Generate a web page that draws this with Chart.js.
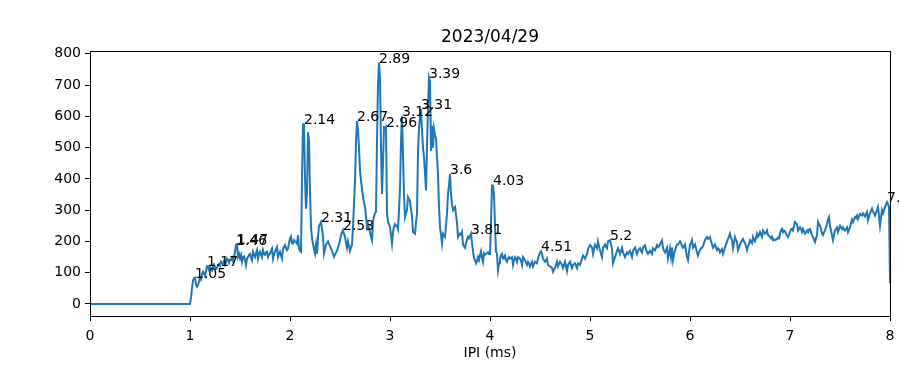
<!DOCTYPE html>
<html>
<head>
<meta charset="utf-8">
<title>2023/04/29</title>
<script src="https://cdn.jsdelivr.net/npm/chart.js@4.4.1/dist/chart.umd.min.js"></script>
<style>
    html, body { margin: 0; padding: 0; background: #ffffff; }
    #wrap { width: 900px; height: 366px; }
</style>
</head>
<body>
<div id="wrap"><canvas id="ipiChart" width="900" height="366"></canvas></div>
<script>
// ==================== ДАННЫЕ ====================

const chartTitle = '2023/04/29';
const xAxisLabel = 'IPI (ms)';
const ipiStep = 0.01;          // шаг гистограммы, мс
const xTicks = [0, 1, 2, 3, 4, 5, 6, 7, 8];
const yTicks = [0, 100, 200, 300, 400, 500, 600, 700, 800];

// отсчёты на каждый шаг 0.00 .. 8.00 мс
const counts = [
    0, 0, 0, 0, 0, 0, 0, 0, 0, 0, 0, 0, 0, 0, 0, 0, 0, 0, 0, 0,
    0, 0, 0, 0, 0, 0, 0, 0, 0, 0, 0, 0, 0, 0, 0, 0, 0, 0, 0, 0,
    0, 0, 0, 0, 0, 0, 0, 0, 0, 0, 0, 0, 0, 0, 0, 0, 0, 0, 0, 0,
    0, 0, 0, 0, 0, 0, 0, 0, 0, 0, 0, 0, 0, 0, 0, 0, 0, 0, 0, 0,
    0, 0, 0, 0, 0, 0, 0, 0, 0, 0, 0, 0, 0, 0, 0, 0, 0, 0, 0, 0,
    // 1.00
    0, 20, 50, 75, 82, 84, 62, 55, 60, 72,
    83, 78, 95, 103, 98, 90, 105, 121, 119, 110,
    118, 114, 108, 120, 126, 118, 112, 115, 125, 128,
    122, 135, 130, 128, 138, 126, 134, 145, 140, 132,
    142, 140, 148, 138, 150, 165, 190, 192, 151, 160,
    146, 157, 135, 150, 152, 140, 124, 145, 150, 157,
    160, 148, 140, 167, 158, 150, 162, 172, 145, 160,
    167, 158, 150, 172, 160, 157, 165, 167, 150, 158,
    162, 170, 177, 145, 158, 167, 175, 182, 150, 160,
    167, 155, 145, 177, 182, 188, 178, 172, 177, 195,
    // 2.00
    209, 216, 193, 193, 204, 200, 198, 193, 220, 178,
    170, 167, 400, 575, 575, 400, 305, 360, 549, 520,
    360, 246, 210, 193, 175, 161, 190, 161, 215, 250,
    255, 262, 240, 215, 161, 175, 190, 195, 200, 192,
    185, 178, 170, 160, 151, 158, 165, 170, 180, 190,
    205, 220, 228, 236, 225, 215, 195, 180, 200, 185,
    170, 180, 190, 246, 320, 390, 520, 586, 555, 500,
    427, 395, 370, 342, 325, 310, 280, 246, 255, 240,
    230, 215, 204, 265, 280, 290, 295, 520, 700, 772,
    720, 500, 352, 450, 565, 563, 567, 289, 262, 255,
    // 3.00
    246, 220, 193, 230, 245, 255, 250, 250, 240, 300,
    370, 520, 600, 480, 350, 278, 290, 300, 342, 335,
    330, 300, 280, 230, 228, 225, 260, 290, 490, 560,
    597, 623, 555, 500, 470, 420, 363, 500, 630, 724,
    712, 490, 570, 500, 560, 540, 530, 470, 416, 310,
    246, 220, 193, 225, 220, 215, 250, 289, 352, 380,
    416, 352, 320, 300, 305, 310, 285, 260, 214, 220,
    225, 222, 230, 190, 185, 180, 195, 205, 215, 210,
    218, 225, 195, 170, 146, 140, 130, 138, 150, 140,
    155, 168, 150, 135, 162, 158, 160, 162, 165, 160,
    // 4.00
    160, 260, 379, 379, 350, 250, 168, 160, 108, 130,
    145, 155, 160, 145, 150, 155, 140, 135, 145, 150,
    145, 148, 150, 125, 140, 150, 145, 135, 150, 148,
    145, 138, 125, 150, 145, 140, 132, 125, 135, 130,
    120, 128, 135, 120, 128, 135, 132, 130, 145, 155,
    165, 169, 160, 145, 140, 135, 140, 145, 125, 122,
    120, 118, 115, 103, 110, 115, 125, 135, 120, 128,
    135, 130, 125, 115, 125, 135, 120, 105, 125, 130,
    135, 125, 115, 125, 128, 130, 122, 115, 130, 128,
    125, 135, 145, 155, 150, 145, 152, 160, 175, 182,
    // 5.00
    188, 185, 180, 160, 175, 190, 185, 178, 200, 185,
    172, 160, 150, 180, 185, 190, 182, 178, 200, 202,
    204, 190, 178, 130, 140, 150, 160, 170, 178, 170,
    160, 170, 180, 165, 158, 150, 158, 165, 160, 165,
    170, 160, 150, 170, 175, 180, 170, 160, 170, 175,
    178, 170, 165, 180, 185, 188, 175, 165, 160, 165,
    170, 165, 160, 178, 175, 172, 180, 188, 182, 185,
    190, 198, 204, 180, 170, 165, 172, 180, 145, 160,
    178, 150, 180, 140, 158, 172, 182, 190, 190, 195,
    200, 195, 185, 180, 185, 190, 170, 150, 140, 165,
    // 6.00
    190, 195, 204, 180, 185, 190, 178, 165, 155, 165,
    172, 178, 180, 185, 195, 204, 210, 214, 208, 210,
    214, 200, 190, 180, 185, 190, 180, 172, 178, 175,
    165, 170, 175, 160, 170, 180, 190, 198, 208, 215,
    225, 212, 204, 178, 195, 214, 205, 198, 172, 180,
    190, 198, 204, 208, 200, 195, 185, 172, 185, 190,
    204, 200, 195, 214, 205, 200, 212, 225, 215, 220,
    230, 222, 215, 235, 230, 225, 228, 235, 220, 218,
    214, 210, 215, 204, 206, 204, 206, 208, 212, 210,
    225, 235, 240, 230, 235, 232, 225, 218, 214, 222,
    // 7.00
    230, 238, 240, 235, 250, 262, 258, 255, 235, 240,
    245, 240, 230, 240, 232, 225, 230, 235, 230, 238,
    240, 230, 220, 214, 205, 198, 210, 220, 262, 255,
    250, 240, 225, 220, 228, 235, 245, 255, 270, 278,
    250, 235, 220, 204, 220, 235, 240, 245, 230, 240,
    250, 245, 240, 245, 238, 235, 240, 245, 230, 238,
    245, 258, 270, 262, 270, 278, 275, 283, 272, 280,
    288, 285, 283, 290, 285, 280, 288, 294, 268, 280,
    290, 298, 305, 295, 290, 283, 292, 300, 310, 280,
    250, 275, 300, 290, 300, 310, 318, 326, 320, 310,
    // 8.00
    66
];

// подписанные пики, мс
const peakIpi = [1.05, 1.17, 1.46, 1.47, 2.14, 2.31, 2.53, 2.67, 2.89, 2.96,
                 3.12, 3.31, 3.39, 3.6, 3.81, 4.03, 4.51, 5.2, 7.97];

// ==================== ПЛАГИНЫ ====================

const FONT = '"DejaVu Sans", "Liberation Sans", sans-serif';

// рамка осей + заголовок + подписи пиков (как в matplotlib)
const mplDecor = {
    id: 'mplDecor',
    afterDatasetsDraw(chart) {
        const { ctx, scales } = chart;
        ctx.save();
        ctx.font = '14px ' + FONT;
        ctx.fillStyle = '#000000';
        ctx.textAlign = 'left';
        ctx.textBaseline = 'alphabetic';
        peakIpi.forEach(p => {
            const v = counts[Math.round(p / ipiStep)];
            ctx.fillText(String(p), scales.x.getPixelForValue(p), scales.y.getPixelForValue(v));
        });
        ctx.restore();
    },
    afterDraw(chart) {
        const { ctx, chartArea } = chart;
        ctx.save();
        ctx.strokeStyle = '#000000';
        ctx.lineWidth = 1;
        ctx.strokeRect(chartArea.left + 0.5, chartArea.top + 0.5,
                       chartArea.right - chartArea.left, chartArea.bottom - chartArea.top);
        ctx.font = '17px ' + FONT;
        ctx.fillStyle = '#000000';
        ctx.textAlign = 'center';
        ctx.textBaseline = 'alphabetic';
        ctx.fillText(chartTitle, (chartArea.left + chartArea.right) / 2, chartArea.top - 9);
        ctx.restore();
    }
};

// ==================== ГРАФИК ====================

const points = counts.map((v, i) => ({ x: i * ipiStep, y: v }));

new Chart(document.getElementById('ipiChart'), {
    type: 'line',
    data: {
        datasets: [{
            data: points,
            borderColor: '#1f77b4',
            borderWidth: 2,
            pointRadius: 0,
            tension: 0,
            fill: false
        }]
    },
    options: {
        responsive: false,
        animation: false,
        layout: {
            padding: { left: 0, right: 10, top: 51, bottom: 0 }
        },
        plugins: {
            legend: { display: false },
            tooltip: { enabled: false },
            title: { display: false }
        },
        scales: {
            x: {
                type: 'linear',
                min: 0,
                max: 8,
                afterBuildTicks: scale => { scale.ticks = xTicks.map(v => ({ value: v })); },
                afterFit: scale => {
                    scale.height = 50;
                    scale.paddingLeft = 0;
                    scale.paddingRight = 0;
                },
                border: { display: false },
                grid: {
                    drawOnChartArea: false,
                    tickLength: 5,
                    color: '#000000',
                    lineWidth: 1
                },
                ticks: {
                    color: '#000000',
                    padding: 7,
                    maxRotation: 0,
                    font: { family: FONT, size: 14 }
                },
                title: {
                    display: true,
                    text: xAxisLabel,
                    color: '#000000',
                    padding: 4,
                    font: { family: FONT, size: 14 }
                }
            },
            y: {
                type: 'linear',
                min: -38.5,
                max: 809,
                afterBuildTicks: scale => { scale.ticks = yTicks.map(v => ({ value: v })); },
                afterFit: scale => { scale.width = 90; },
                border: { display: false },
                grid: {
                    drawOnChartArea: false,
                    tickLength: 5,
                    color: '#000000',
                    lineWidth: 1
                },
                ticks: {
                    color: '#000000',
                    padding: 4,
                    font: { family: FONT, size: 14 }
                }
            }
        }
    },
    plugins: [mplDecor]
});
</script>
</body>
</html>
